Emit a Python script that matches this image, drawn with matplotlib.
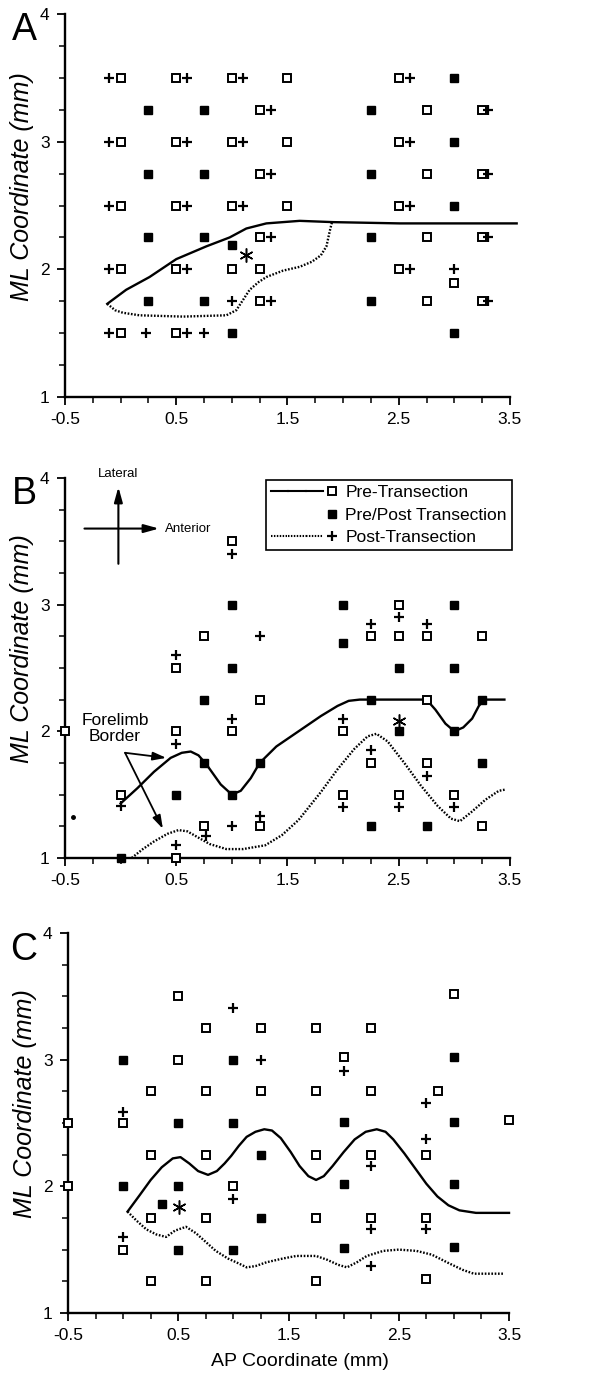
import numpy as np
import matplotlib
matplotlib.use("Agg")
import matplotlib.pyplot as plt
from matplotlib.lines import Line2D
from matplotlib.legend_handler import HandlerTuple

plt.rcParams["font.family"] = ["Liberation Sans", "DejaVu Sans"]

# ---------------- Panel A ----------------
a_open_x = [0, 0.5, 1.0, 1.5, 2.5, 1.25, 2.75, 3.25, 0, 0.5, 1.0, 1.5, 2.5,
            1.25, 2.75, 3.25, 0, 0.5, 1.0, 1.5, 2.5, 1.25, 2.75, 3.25,
            0, 0.5, 1.0, 1.25, 2.5, 3.0, 1.25, 2.75, 3.25, 0, 0.5]
a_open_y = [3.5, 3.5, 3.5, 3.5, 3.5, 3.25, 3.25, 3.25, 3.0, 3.0, 3.0, 3.0, 3.0,
            2.75, 2.75, 2.75, 2.5, 2.5, 2.5, 2.5, 2.5, 2.25, 2.25, 2.25,
            2.0, 2.0, 2.0, 2.0, 2.0, 1.89, 1.75, 1.75, 1.75, 1.5, 1.5]
a_fill_x = [3.0, 0.25, 0.75, 2.25, 3.0, 0.25, 0.75, 2.25, 3.0, 0.25, 0.75, 2.25,
            1.0, 0.25, 0.75, 2.25, 1.0, 3.0]
a_fill_y = [3.5, 3.25, 3.25, 3.25, 3.0, 2.75, 2.75, 2.75, 2.5, 2.25, 2.25, 2.25,
            2.19, 1.75, 1.75, 1.75, 1.5, 1.5]
a_plus_x = [-0.1, 0.6, 1.1, 2.6, 1.35, 3.3, -0.1, 0.6, 1.1, 2.6, 1.35, 3.3,
            -0.1, 0.6, 1.1, 2.6, 1.35, 3.3, -0.1, 0.6, 2.6, 3.0,
            1.0, 1.35, 3.3, -0.1, 0.23, 0.6, 0.75]
a_plus_y = [3.5, 3.5, 3.5, 3.5, 3.25, 3.25, 3.0, 3.0, 3.0, 3.0, 2.75, 2.75,
            2.5, 2.5, 2.5, 2.5, 2.25, 2.25, 2.0, 2.0, 2.0, 2.0,
            1.75, 1.75, 1.75, 1.5, 1.5, 1.5, 1.5]
a_star = (1.13, 2.11)
a_solid_x = [-0.12, 0.05, 0.26, 0.5, 0.77, 0.98, 1.13, 1.31, 1.61, 1.91, 2.51, 3.56]
a_solid_y = [1.73, 1.84, 1.94, 2.08, 2.18, 2.25, 2.32, 2.36, 2.38, 2.37, 2.36, 2.36]
a_dot_x = [-0.12, -0.05, 0.02, 0.17, 0.56, 0.95, 1.04, 1.1, 1.16, 1.24, 1.31, 1.46,
           1.61, 1.72, 1.8, 1.85, 1.88, 1.9]
a_dot_y = [1.73, 1.68, 1.66, 1.64, 1.63, 1.64, 1.68, 1.76, 1.84, 1.9, 1.94, 1.99,
           2.02, 2.06, 2.11, 2.18, 2.3, 2.37]

# ---------------- Panel B ----------------
b_open_x = [-0.5, 0, 0.5, 0.5, 0.5, 0.75, 0.75, 1.0, 1.0, 1.25, 1.25, 2.0, 2.0,
            2.25, 2.25, 2.5, 2.5, 2.5, 2.75, 2.75, 2.75, 3.0, 3.25, 3.25]
b_open_y = [2.0, 1.5, 2.5, 2.0, 1.0, 2.75, 1.25, 3.5, 2.0, 2.25, 1.25, 2.0, 1.5,
            2.75, 1.75, 3.0, 2.75, 1.5, 2.75, 2.25, 1.75, 1.5, 2.75, 1.25]
b_fill_x = [0, 0.5, 0.75, 0.75, 1.0, 1.0, 1.0, 1.25, 2.0, 2.0, 2.25, 2.25,
            2.5, 2.5, 2.75, 3.0, 3.0, 3.0, 3.25, 3.25]
b_fill_y = [1.0, 1.5, 2.25, 1.75, 3.0, 2.5, 1.5, 1.75, 3.0, 2.7, 2.25, 1.25,
            2.5, 2.0, 1.25, 3.0, 2.5, 2.0, 2.25, 1.75]
b_plus_x = [0, 0.5, 0.5, 0.5, 0.77, 1.0, 1.0, 1.0, 1.25, 1.25, 2.0, 2.0,
            2.25, 2.25, 2.5, 2.5, 2.75, 2.75, 3.0]
b_plus_y = [1.41, 2.6, 1.9, 1.1, 1.17, 3.4, 2.1, 1.25, 2.75, 1.33, 2.1, 1.4,
            2.85, 1.85, 2.9, 1.4, 2.85, 1.65, 1.4]
b_star = (2.5, 2.08)
b_speck = (-0.43, 1.32)
b_solid_x = [0.0, 0.15, 0.3, 0.45, 0.55, 0.63, 0.7, 0.77, 0.9, 1.0, 1.08, 1.17, 1.25,
             1.4, 1.6, 1.8, 1.95, 2.05, 2.15, 2.75, 2.83, 2.92, 3.0, 3.08, 3.16,
             3.22, 3.27, 3.45]
b_solid_y = [1.43, 1.55, 1.68, 1.79, 1.83, 1.84, 1.81, 1.74, 1.58, 1.5, 1.53, 1.63, 1.75,
             1.88, 2.0, 2.12, 2.2, 2.24, 2.25, 2.25, 2.17, 2.06, 2.0, 2.03, 2.1,
             2.2, 2.25, 2.25]
b_dot_x = [0.1, 0.2, 0.3, 0.42, 0.52, 0.6, 0.7, 0.8, 0.95, 1.1, 1.3, 1.45, 1.6,
           1.8, 1.95, 2.1, 2.22, 2.3, 2.4, 2.55, 2.7, 2.85, 2.97, 3.05, 3.15, 3.28,
           3.4, 3.46]
b_dot_y = [1.0, 1.07, 1.13, 1.19, 1.22, 1.21, 1.16, 1.11, 1.07, 1.07, 1.1, 1.18, 1.3,
           1.52, 1.7, 1.86, 1.96, 1.98, 1.92, 1.75, 1.57, 1.41, 1.31, 1.29, 1.36, 1.46,
           1.53, 1.54]

# ---------------- Panel C ----------------
c_open_x = [-0.5, -0.5, 0, 0, 0.25, 0.25, 0.25, 0.25, 0.5, 0.5, 0.75, 0.75, 0.75,
            0.75, 0.75, 1.0, 1.25, 1.25, 1.75, 1.75, 1.75, 1.75, 1.75, 2.0,
            2.25, 2.25, 2.25, 2.25, 2.75, 2.75, 2.75, 2.86, 3.0, 3.5]
c_open_y = [2.5, 2.0, 2.5, 1.5, 2.75, 2.25, 1.75, 1.25, 3.5, 3.0, 3.25, 2.75, 2.25,
            1.75, 1.25, 2.0, 3.25, 2.75, 3.25, 2.75, 2.25, 1.75, 1.25, 3.02,
            3.25, 2.75, 2.25, 1.75, 2.25, 1.75, 1.27, 2.75, 3.52, 2.52]
c_fill_x = [0, 0, 0.35, 0.5, 0.5, 0.5, 1.0, 1.0, 1.0, 1.25, 1.25, 2.0, 2.0, 2.0,
            3.0, 3.0, 3.0, 3.0]
c_fill_y = [3.0, 2.0, 1.86, 2.5, 2.0, 1.5, 3.0, 2.5, 1.5, 2.25, 1.75, 2.51, 2.02, 1.51,
            3.02, 2.51, 2.02, 1.52]
c_plus_x = [0, 0, 1.0, 1.0, 1.25, 2.0, 2.25, 2.25, 2.25, 2.75, 2.75, 2.75]
c_plus_y = [2.59, 1.6, 3.41, 1.9, 3.0, 2.91, 2.16, 1.66, 1.37, 2.66, 2.37, 1.66]
c_star = (0.51, 1.84)
c_solid_x = [0.04, 0.15, 0.25, 0.35, 0.45, 0.52, 0.6, 0.68, 0.77, 0.85, 0.92, 0.98,
             1.05, 1.12, 1.2, 1.28, 1.35, 1.43, 1.52, 1.6, 1.68, 1.75, 1.82, 1.9, 2.0,
             2.1, 2.2, 2.3, 2.38, 2.45, 2.55, 2.65, 2.75, 2.85, 2.95, 3.05, 3.2, 3.5]
c_solid_y = [1.8, 1.93, 2.05, 2.15, 2.22, 2.23, 2.18, 2.12, 2.09, 2.12, 2.18, 2.24,
             2.32, 2.39, 2.43, 2.45, 2.44, 2.38, 2.27, 2.16, 2.08, 2.05, 2.08, 2.16, 2.27,
             2.37, 2.43, 2.45, 2.43, 2.37, 2.26, 2.14, 2.02, 1.92, 1.85, 1.81, 1.79, 1.79]
c_dot_x = [0.04, 0.12, 0.21, 0.3, 0.39, 0.47, 0.57, 0.66, 0.75, 0.84, 0.95, 1.05,
           1.12, 1.2, 1.3, 1.45, 1.57, 1.75, 1.85, 1.95, 2.03, 2.12, 2.21, 2.36,
           2.5, 2.66, 2.8, 2.96, 3.08, 3.18, 3.3, 3.45]
c_dot_y = [1.8, 1.73, 1.66, 1.62, 1.6, 1.65, 1.68, 1.63, 1.56, 1.49, 1.43, 1.39,
           1.36, 1.37, 1.4, 1.43, 1.45, 1.45, 1.42, 1.38, 1.36, 1.4, 1.45, 1.49,
           1.5, 1.49, 1.46, 1.39, 1.34, 1.31, 1.31, 1.31]

x_major = [-0.5, 0.5, 1.5, 2.5, 3.5]
x_major_labels = ["-0.5", "0.5", "1.5", "2.5", "3.5"]
y_major = [1, 2, 3, 4]
legend_labels = ["Pre-Transection", "Pre/Post Transection", "Post-Transection"]

DOTTED = (0, (0.7, 0.7))


def style_axis(ax):
    for side in ["top", "right"]:
        ax.spines[side].set_visible(False)
    for side in ["left", "bottom"]:
        ax.spines[side].set_linewidth(1.7)
    ax.set_xlim(-0.5, 3.5)
    ax.set_ylim(1, 4)
    ax.set_xticks(x_major)
    ax.set_xticklabels(x_major_labels)
    ax.set_xticks(np.arange(-0.5, 3.51, 0.25), minor=True)
    ax.set_yticks(y_major)
    ax.set_yticks(np.arange(1, 4.01, 0.25), minor=True)
    ax.tick_params(which="major", direction="out", length=6, width=1.3,
                   labelsize=12.5, pad=5)
    ax.tick_params(which="minor", direction="out", length=4, width=1.1)
    ax.set_ylabel("ML Coordinate (mm)", fontsize=18, style="italic")
    ax.yaxis.set_label_coords(-0.07, 0.55)


def draw_points(ax, ox, oy, fx, fy, px, py, star):
    ax.plot(ox, oy, linestyle="none", marker="s", ms=5.2, mfc="white",
            mec="black", mew=1.4, clip_on=False, zorder=4)
    ax.plot(fx, fy, linestyle="none", marker="s", ms=6, mfc="black",
            mec="black", clip_on=False, zorder=4)
    ax.plot(px, py, linestyle="none", marker="+", ms=7, mec="black",
            mew=1.6, clip_on=False, zorder=4)
    ax.plot([star[0]], [star[1]], linestyle="none", marker=(6, 2, 0), ms=10,
            mec="black", mew=1.1, zorder=4)


def draw_borders(ax, sx, sy, dx, dy):
    ax.plot(sx, sy, color="black", lw=1.7, clip_on=False, zorder=3)
    ax.plot(dx, dy, color="black", lw=1.7, linestyle=DOTTED,
            clip_on=False, zorder=3)


fig = plt.figure(figsize=(5.93, 13.78), dpi=100)

ax_a = fig.add_axes([0.1096, 0.7119, 0.7504, 0.2779])
style_axis(ax_a)
draw_points(ax_a, a_open_x, a_open_y, a_fill_x, a_fill_y, a_plus_x, a_plus_y, a_star)
draw_borders(ax_a, a_solid_x, a_solid_y, a_dot_x, a_dot_y)

ax_b = fig.add_axes([0.1096, 0.3774, 0.7504, 0.2758])
style_axis(ax_b)
draw_points(ax_b, b_open_x, b_open_y, b_fill_x, b_fill_y, b_plus_x, b_plus_y, b_star)
draw_borders(ax_b, b_solid_x, b_solid_y, b_dot_x, b_dot_y)
ax_b.plot([b_speck[0]], [b_speck[1]], marker="o", ms=2.5, color="black")

# compass
arrow_style = "-|>,head_length=0.9,head_width=0.25"
ax_b.annotate("", xy=(-0.02, 3.95), xytext=(-0.02, 3.3),
              arrowprops=dict(arrowstyle=arrow_style, color="black", lw=1.5))
ax_b.annotate("", xy=(0.37, 3.6), xytext=(-0.35, 3.6),
              arrowprops=dict(arrowstyle=arrow_style, color="black", lw=1.5))
ax_b.text(-0.02, 3.98, "Lateral", ha="center", va="bottom", fontsize=9.5)
ax_b.text(0.4, 3.6, "Anterior", ha="left", va="center", fontsize=9.5)

# forelimb border annotation
ax_b.text(-0.05, 2.02, "Forelimb\nBorder", ha="center", va="center",
          fontsize=12.5, linespacing=1.05)
for tip in [(0.41, 1.79), (0.38, 1.23)]:
    ax_b.annotate("", xy=tip, xytext=(0.04, 1.83),
                  arrowprops=dict(arrowstyle="-|>,head_length=0.8,head_width=0.25",
                                  color="black", lw=1.3, shrinkA=0, shrinkB=0))

# legend: line segment, then the marker
h_solid = Line2D([], [], color="black", lw=1.5)
h_dot = Line2D([], [], color="black", lw=1.5, linestyle=DOTTED)
h_none = Line2D([], [], linestyle="none")
h_open = Line2D([], [], linestyle="none", marker="s", ms=5.2, mfc="white",
                mec="black", mew=1.4)
h_fill = Line2D([], [], linestyle="none", marker="s", ms=6, mfc="black", mec="black")
h_plus = Line2D([], [], linestyle="none", marker="+", ms=7, mec="black", mew=1.6)
leg = ax_b.legend([(h_solid, h_solid, h_solid, h_open),
                   (h_none, h_none, h_none, h_fill),
                   (h_dot, h_dot, h_dot, h_plus)],
                  legend_labels,
                  handler_map={tuple: HandlerTuple(ndivide=None, pad=0.0)},
                  loc="upper right", bbox_to_anchor=(1.005, 0.995),
                  borderaxespad=0, fontsize=12.5, handlelength=4.0,
                  handletextpad=0.3, labelspacing=0.42, borderpad=0.3,
                  fancybox=False, framealpha=1, edgecolor="black")
leg.get_frame().set_linewidth(1.2)

ax_c = fig.add_axes([0.1147, 0.0472, 0.7437, 0.2758])
style_axis(ax_c)
draw_points(ax_c, c_open_x, c_open_y, c_fill_x, c_fill_y, c_plus_x, c_plus_y, c_star)
draw_borders(ax_c, c_solid_x, c_solid_y, c_dot_x, c_dot_y)
ax_c.set_xlabel("AP Coordinate (mm)", fontsize=14)
ax_c.xaxis.set_label_coords(0.525, -0.105)

for label, ypix in [("A", 30), ("B", 494), ("C", 950)]:
    fig.text(24 / 593, 1 - ypix / 1378, label, fontsize=27, ha="center", va="center")

fig.savefig("out.png", dpi=100)
